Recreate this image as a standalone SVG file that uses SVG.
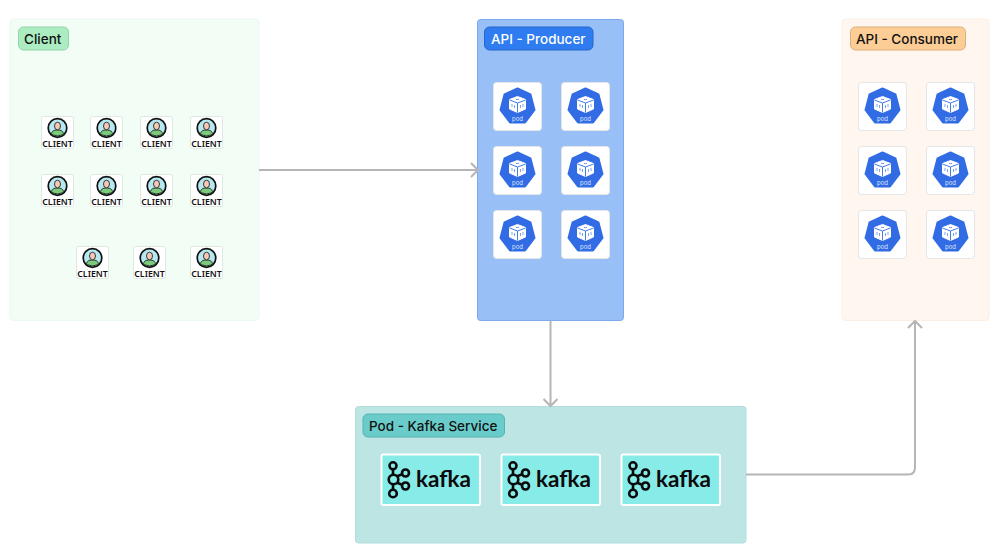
<svg xmlns="http://www.w3.org/2000/svg" width="993" height="546" viewBox="0 0 993 546">
<style>
text{font-family:Inter,"Liberation Sans",sans-serif}
.badge{font-size:13.5px;font-weight:500}
.conn{fill:none;stroke:#b5b5b5;stroke-width:2}
.podtile{fill:#fff;stroke:#e6e6e6;stroke-width:1}
.clienttxt{font-size:8.8px;font-weight:600;fill:#111;text-anchor:middle;font-family:"Noto Sans","Liberation Sans",sans-serif}
.podtxt{font-size:6px;fill:#dbe6fb;text-anchor:middle}
.kt{font-size:22.500px;font-weight:700;fill:#0b0b0b;font-family:Lato,"Open Sans",sans-serif}
</style>
<defs>
<marker id="arrow" markerWidth="16" markerHeight="16" refX="12" refY="8" orient="auto" markerUnits="userSpaceOnUse">
<path d="M5 1L12 8L5 15" fill="none" stroke="#b5b5b5" stroke-width="2"/>
</marker>
<g id="pod">
<rect class="podtile" x="0.5" y="0.5" width="48" height="48" rx="3"/>
<path d="M24.500 6.500L37.500 12.500L41.500 28L32 40.500L17 40.500L7.500 28L11.500 12.500Z" fill="#326ce5" stroke="#326ce5" stroke-width="2" stroke-linejoin="round"/>
<path d="M24.500 14.500L32.500 17.500V27L24.500 30.500L16.500 27V17.500Z" fill="#fff" stroke="#fff" stroke-linejoin="round"/>
<path d="M16.500 18L24.500 21L32.500 18M24.500 21V30.500" fill="none" stroke="#326ce5" stroke-width=".9"/>
<path d="M19 22V25M21.500 23V26M27.500 23V26M30 22V25M23 17.500H26" fill="none" stroke="#7ea3ee" stroke-width="1"/>
<text class="podtxt" x="24.500" y="39">pod</text>
</g>
<g id="client">
<rect x="0.500" y="0.500" width="32" height="32" rx="2" fill="#fff" stroke="#dfe9e2" stroke-width="1"/>
<circle cx="16.500" cy="12" r="9.300" fill="#b5e8f0" stroke="#111" stroke-width="1.700"/>
<path d="M10.500 18.500C10.500 15 13 14 16.500 14S22.500 15 22.500 18.500Q16.500 21.500 10.500 18.500Z" fill="#7ccb7c" stroke="#111" stroke-width=".8"/>
<ellipse cx="16.500" cy="10" rx="3" ry="3.800" fill="#f7c9b5" stroke="#111" stroke-width=".8"/>
<text class="clienttxt" x="16.500" y="30.500">CLIENT</text>
</g>
<g id="kafka">
<rect x="0.500" y="0.500" width="98.500" height="50.500" rx="2" fill="#87ebe8" stroke="#fff" stroke-width="2"/>
<g fill="none" stroke="#0b0b0b" stroke-width="2.600">
<path d="M12 15V37M12 24L24 19M12 27L24 32"/>
<circle cx="12" cy="11.800" r="3.500" fill="#87ebe8"/>
<circle cx="12.500" cy="25.500" r="4.800" fill="#87ebe8"/>
<circle cx="12" cy="39.500" r="3.800" fill="#87ebe8"/>
<circle cx="24.500" cy="19" r="3.500" fill="#87ebe8"/>
<circle cx="24.500" cy="32" r="3.500" fill="#87ebe8"/>
</g>
<text class="kt" x="35" y="33">kafka</text>
</g>
</defs>
<rect width="993" height="546" fill="#fff"/>

<g id="client-group">
<rect x="10" y="19" width="249" height="301.500" rx="4" fill="#f2fdf5" stroke="#ebf8ef"/>
<rect x="18.500" y="27" width="50" height="23" rx="5" fill="#abecc1" stroke="#8fd6a9"/>
<text class="badge" x="24" y="44" fill="#111">Client</text>
<use href="#client" x="41" y="116"/><use href="#client" x="90" y="116"/><use href="#client" x="140" y="116"/><use href="#client" x="190" y="116"/>
<use href="#client" x="41" y="174"/><use href="#client" x="90" y="174"/><use href="#client" x="140" y="174"/><use href="#client" x="190" y="174"/>
<use href="#client" x="76" y="246"/><use href="#client" x="133" y="246"/><use href="#client" x="190" y="246"/>
</g>

<g id="api-producer">
<rect x="477.500" y="19.500" width="146" height="301" rx="3" fill="#98bff6" stroke="#7ba9ec"/>
<rect x="484.500" y="27" width="108.500" height="23" rx="5" fill="#2f7cf0" stroke="#2667cc"/>
<text class="badge" x="491" y="44" fill="#fff">API - Producer</text>
<use href="#pod" x="493" y="82"/><use href="#pod" x="561" y="82"/>
<use href="#pod" x="493" y="146"/><use href="#pod" x="561" y="146"/>
<use href="#pod" x="493" y="210"/><use href="#pod" x="561" y="210"/>
</g>

<g id="api-consumer">
<rect x="842" y="19" width="147" height="301.500" rx="4" fill="#fff6ef" stroke="#fbefe5"/>
<rect x="850.500" y="27" width="115" height="23" rx="5" fill="#fdcd96" stroke="#dcae7c"/>
<text class="badge" x="856" y="44" fill="#111">API - Consumer</text>
<use href="#pod" x="858" y="82"/><use href="#pod" x="926" y="82"/>
<use href="#pod" x="858" y="146"/><use href="#pod" x="926" y="146"/>
<use href="#pod" x="858" y="210"/><use href="#pod" x="926" y="210"/>
</g>

<g id="pod-kafka-service">
<rect x="355.500" y="406.500" width="390.500" height="136.500" rx="3" fill="#bde5e3" stroke="#b2dedc"/>
<rect x="363" y="414" width="141.500" height="23" rx="5" fill="#6accca" stroke="#55b3b1"/>
<text class="badge" x="369" y="431" fill="#111">Pod - Kafka Service</text>
<use href="#kafka" x="381" y="454"/><use href="#kafka" x="501" y="454"/><use href="#kafka" x="621" y="454"/>
</g>

<g id="connectors">
<path class="conn" d="M259 170H478" marker-end="url(#arrow)"/>
<path class="conn" d="M550.500 320.500V406" marker-end="url(#arrow)"/>
<path class="conn" d="M746 474.500H908Q915 474.500 915 467.500V321" marker-end="url(#arrow)"/>
</g>
</svg>
